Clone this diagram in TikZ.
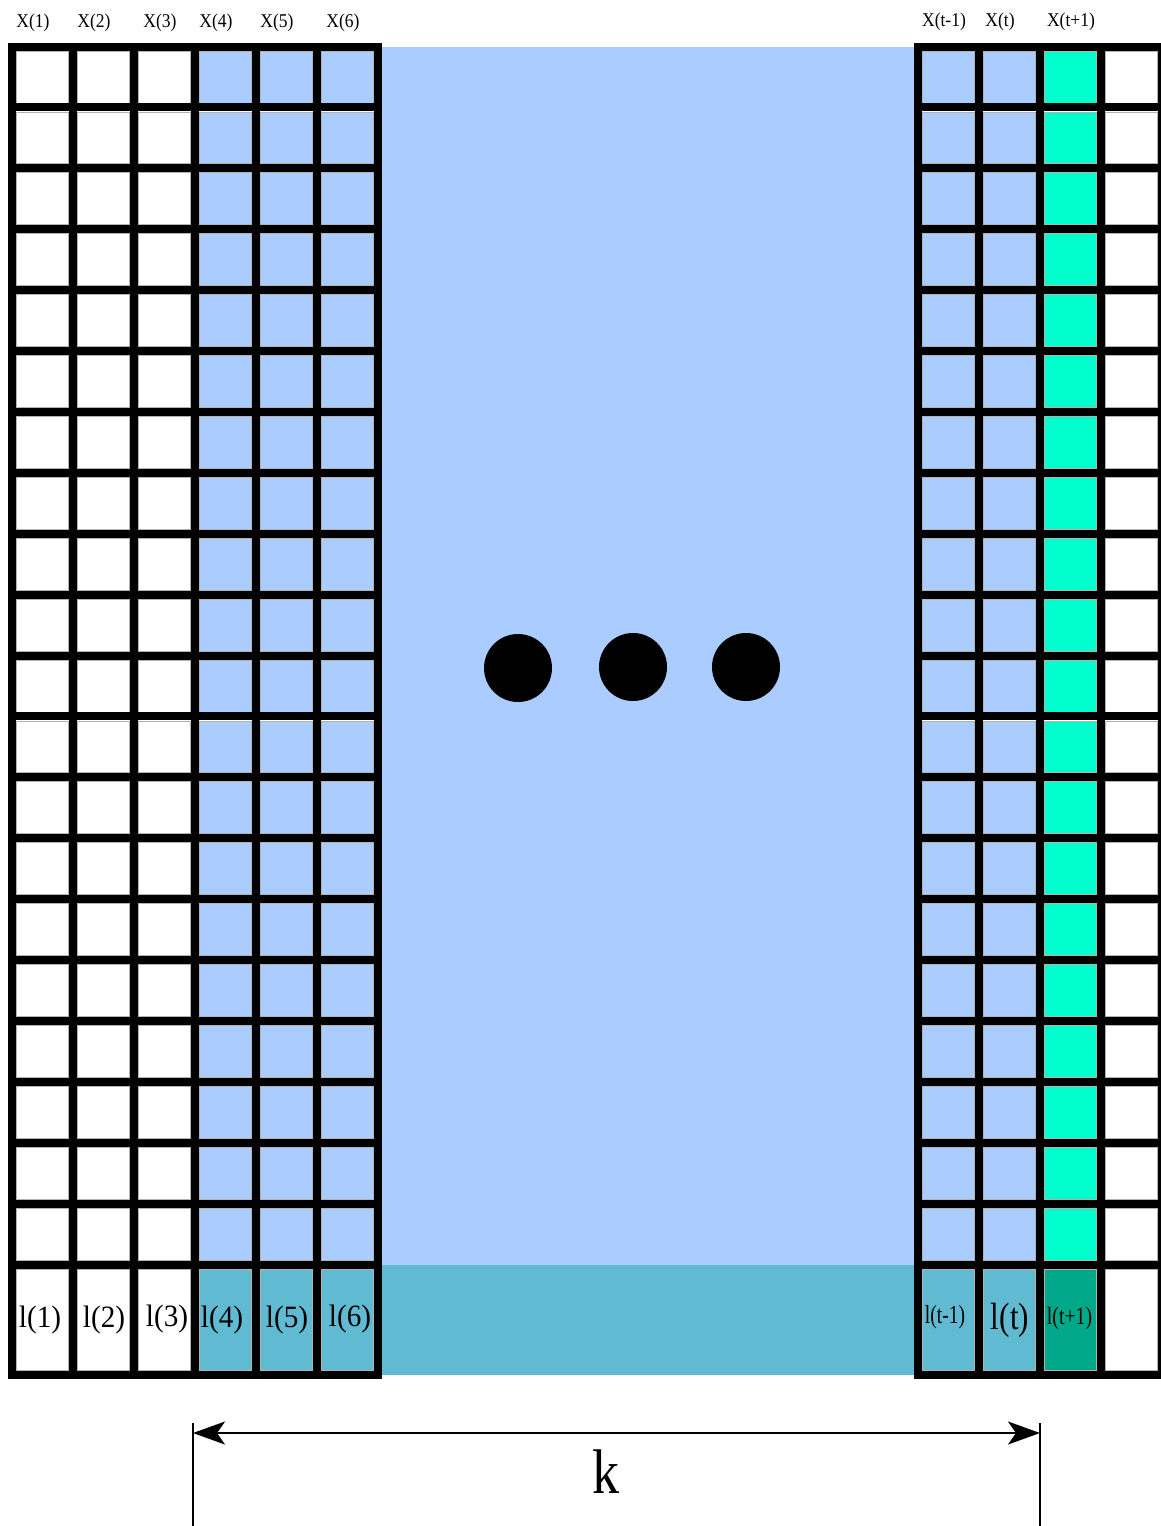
\documentclass[tikz,border=0pt]{standalone}
\usepackage{fontspec}
\setmainfont{Liberation Serif}
\usetikzlibrary{arrows.meta}
\definecolor{lblue}{RGB}{170,204,255}
\definecolor{cyanc}{RGB}{0,255,204}
\definecolor{tealc}{RGB}{96,186,210}
\definecolor{dteal}{RGB}{0,168,138}
\begin{document}
\begin{tikzpicture}[x=1pt,y=-1pt,
  cellfill/.style={line width=0.7pt, draw=gray!60},
  gridline/.style={line width=8pt, draw=black, line join=miter},
  toplab/.style={anchor=base, inner sep=0pt, font=\fontsize{19.5}{20}\selectfont},
  botlab/.style={anchor=base, inner sep=0pt},
  dimline/.style={line width=1.8pt, draw=black},
  dimarrow/.style={line width=2.2pt, draw=black, >={Stealth[length=32pt,width=23pt,inset=8pt]}, <->}]
\useasboundingbox (0,0) rectangle (1161,1526);
% background band between the grids
\fill[lblue] (378,46.5) rectangle (918,1264.5);
\fill[tealc] (378,1264.5) rectangle (918,1374.5);
% columns: x / colour of square cells / colour of label cell
\foreach \xa/\ca/\cb in {12/white/white,73/white/white,134/white/white,195/lblue/tealc,256/lblue/tealc,317/lblue/tealc,918/lblue/tealc,979/lblue/tealc,1040/cyanc/dteal,1101/white/white}{
  \foreach \r in {0,...,19}{
    \pgfmathsetmacro\ya{46.5+60.9*\r}
    \path[cellfill, fill=\ca] (\xa+4.5,\ya+4.5) rectangle (\xa+56.5,\ya+56.4);
  }
  \path[cellfill, fill=\cb] (\xa+4.5,1269) rectangle (\xa+56.5,1370);
}
% black grid lines
\foreach \xa in {12,73,134,195,256,317,918,979,1040,1101}{
  \foreach \r in {0,...,19}{
    \pgfmathsetmacro\ya{46.5+60.9*\r}
    \draw[gridline] (\xa,\ya) rectangle (\xa+61,\ya+60.9);
  }
  \draw[gridline] (\xa,1264.5) rectangle (\xa+61,1374.5);
}
% dots
\fill[black] (518,668) circle (34);
\fill[black] (633,667) circle (34);
\fill[black] (746,667) circle (34);
% top labels
\node[toplab] (X1) at (33,27) {\scalebox{0.9}[1]{X(1)}};
\node[toplab] (X2) at (94,27) {\scalebox{0.9}[1]{X(2)}};
\node[toplab] (X3) at (160,27) {\scalebox{0.9}[1]{X(3)}};
\node[toplab] (X4) at (216,27) {\scalebox{0.9}[1]{X(4)}};
\node[toplab] (X5) at (277,27) {\scalebox{0.9}[1]{X(5)}};
\node[toplab] (X6) at (343,27) {\scalebox{0.9}[1]{X(6)}};
\node[toplab] (Xtm) at (944,26) {\scalebox{0.9}[1]{X(t-1)}};
\node[toplab] (Xt) at (1000,26) {\scalebox{0.9}[1]{X(t)}};
\node[toplab] (Xtp) at (1071,26) {\scalebox{0.9}[1]{X(t+1)}};
% bottom labels
\node[botlab, font=\fontsize{31}{32}\selectfont] (l1) at (40,1327) {\scalebox{0.94}[1]{l(1)}};
\node[botlab, font=\fontsize{31}{32}\selectfont] (l2) at (104,1327) {\scalebox{0.94}[1]{l(2)}};
\node[botlab, font=\fontsize{31}{32}\selectfont] (l3) at (167,1326) {\scalebox{0.94}[1]{l(3)}};
\node[botlab, font=\fontsize{31}{32}\selectfont] (l4) at (222,1327) {\scalebox{0.94}[1]{l(4)}};
\node[botlab, font=\fontsize{31}{32}\selectfont] (l5) at (287,1327) {\scalebox{0.94}[1]{l(5)}};
\node[botlab, font=\fontsize{31}{32}\selectfont] (l6) at (350,1326) {\scalebox{0.94}[1]{l(6)}};
\node[botlab, font=\fontsize{26}{27}\selectfont] (ltm) at (945,1323.5) {\scalebox{0.75}[1]{l(t-1)}};
\node[botlab, font=\fontsize{38}{39}\selectfont] (lt) at (1010,1329) {\scalebox{0.82}[1]{l(t)}};
\node[botlab, font=\fontsize{25}{26}\selectfont] (ltp) at (1069.5,1324) {\scalebox{0.79}[1]{l(t+1)}};
% dimension k
\coordinate (kL) at (193,1433);
\coordinate (kR) at (1040,1433);
\coordinate (kLt) at (193,1423);
\coordinate (kLb) at (193,1526);
\coordinate (kRt) at (1040,1423);
\coordinate (kRb) at (1040,1526);
\draw[dimline] (kLt) -- (kLb);
\draw[dimline] (kRt) -- (kRb);
\draw[dimarrow] (kL) -- (kR);
\node[botlab, font=\fontsize{63}{64}\selectfont] (k) at (606,1493) {\scalebox{0.86}[1]{k}};
\end{tikzpicture}
\end{document}
